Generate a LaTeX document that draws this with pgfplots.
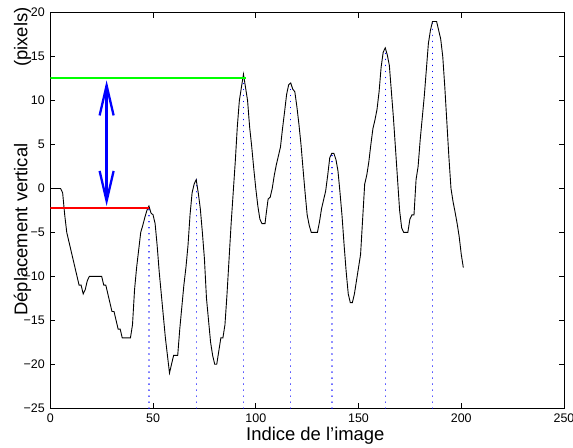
\documentclass[border=0pt]{standalone}
\usepackage{fontspec}
\setmainfont{Liberation Sans}
\usepackage{pgfplots}
\pgfplotsset{compat=1.18}
\usetikzlibrary{arrows.meta}
\begin{document}
\begin{tikzpicture}
\begin{axis}[
  name=ax,
  at={(0,0)}, anchor=south west,
  scale only axis,
  width=513.5bp, height=395.3bp,
  xmin=0, xmax=250, ymin=-25, ymax=20,
  xtick={0,50,100,150,200,250},
  ytick={-25,-20,-15,-10,-5,0,5,10,15,20},
  yticklabels={−25,−20,−15,−10,−5,0,5,10,15,20},
  xticklabels={0,50,100,150,200,250},
  tick align=inside,
  major tick length=5bp,
  axis line style={line width=0.8bp},
  every tick/.style={black, line width=0.8bp},
  tick label style={font=\fontsize{12.5}{12.5}\selectfont, inner sep=0pt},
  xticklabel style={anchor=base, yshift=-14.7bp},
  yticklabel style={anchor=east, xshift=-5.3bp},
  xlabel={Indice de l’image},
  ylabel={Déplacement vertical\hspace{4.16em}(pixels)},
  every axis x label/.style={at={(axis description cs:0.5159,0)}, anchor=base, yshift=-32.5bp, inner sep=0pt, font=\fontsize{18.5}{18.5}\selectfont},
  every axis y label/.style={at={(axis description cs:-0.0448,0.6236)}, rotate=90, anchor=base, inner sep=0pt, font=\fontsize{18.5}{18.5}\selectfont},
  dotstyle/.style={draw=blue, color=blue, line width=1.4bp, line cap=round, dash pattern=on 0.01bp off 6bp},
]
% dotted peak markers
\addplot[dotstyle] coordinates {(48,-25) (48,-2)};
\addplot[dotstyle] coordinates {(71,-25) (71,1)};
\addplot[dotstyle] coordinates {(94,-25) (94,13)};
\addplot[dotstyle] coordinates {(117,-25) (117,12)};
\addplot[dotstyle] coordinates {(137,-25) (137,4)};
\addplot[dotstyle] coordinates {(163,-25) (163,16)};
\addplot[dotstyle] coordinates {(186,-25) (186,19)};
% main curve
\addplot[black, line width=0.9bp] coordinates {
(1,0) (5,0) (6,-0.5) (7,-3) (8,-5) (9,-6) (10,-7) (11,-8) (12,-9) (13,-10) (14,-11) (15,-11)
(16,-12) (17,-11.5) (18,-10.5) (19,-10) (25,-10) (26,-11) (27,-11) (28,-12) (29,-13) (30,-14)
(31,-14) (32,-15) (33,-16) (34,-16) (35,-17) (39,-17) (40,-15.5) (41,-11.5) (42,-9) (43,-7)
(44,-5) (45,-4.2) (46,-3.3) (47,-2.5) (48,-2) (49,-2.8) (50,-3) (51,-4) (52,-6.5) (53,-9.5)
(54,-12) (55,-14.5) (56,-17) (57,-19) (58,-21) (59,-20) (60,-19) (62,-19) (63,-16) (64,-13.5)
(65,-11) (66,-9) (67,-6.5) (68,-3) (69,-0.5) (70,0.5) (71,1) (72,-0.5) (73,-2.3) (74,-5)
(75,-8) (76,-12.5) (77,-15) (78,-17.5) (79,-19) (80,-20) (81,-20) (82,-18.5) (83,-17) (84,-17)
(85,-15.5) (86,-12) (87,-8) (88,-4) (89,-0.5) (90,3) (91,7) (92,10) (93,11.5) (94,13)
(95,11.5) (96,10) (97,7) (98,4.8) (99,2.3) (100,0) (101,-2) (102,-3.5) (103,-4) (104.5,-4)
(105,-3) (106,-1.2) (107,-1) (108,0) (109,1.5) (110,2.7) (111,3.7) (112,4.7) (113,6.8)
(114,8.7) (115,10.7) (116,11.8) (117,12) (118,11.3) (119,11) (120,9.3) (121,7.3) (122,5)
(123,2.2) (124,-0.5) (125,-3) (126,-4.2) (127,-5) (130,-5) (131,-3.8) (132,-2.3) (133,-1.3)
(134,-0.3) (135,1.5) (136,3.5) (137,4) (138,4) (139,3.3) (140,2) (141,-0.5) (142,-3.2)
(143,-6.5) (144,-9.5) (145,-12) (146,-13) (147,-13) (148,-12) (149,-10.5) (150,-9) (151,-7.5)
(152,-3.5) (153,0.5) (154,1.5) (155,3) (156,5) (157,6.8) (158,7.8) (159,9) (160,11)
(161,13.8) (162,15.5) (163,16) (164,15.2) (165,14) (166,11) (167,8) (168,4.5) (169,1)
(170,-2.5) (171,-4.5) (172,-5) (174,-5) (175,-3.5) (176,-3) (177,-3) (178,1) (179,2.5)
(180,5.5) (181,8) (182,10.5) (183,13.5) (184,16.5) (185,18) (186,19) (188,19) (189,18)
(190,17) (191,15) (192,11.5) (193,7.5) (194,3.5) (195,0) (196,-1.5) (197,-2.7) (198,-4)
(199,-5.5) (200,-7.5) (201,-9)
};
% reference levels
\addplot[red, line width=2.5bp] coordinates {(0,-2.2) (48,-2.2)};
\addplot[green, line width=2.5bp] coordinates {(0,12.55) (95.1,12.55)};
% double arrow
\addplot[blue, line width=2.3bp, arrows={Straight Barb[length=30bp,width=14bp]-Straight Barb[length=30bp,width=14bp]}] coordinates {(27.4,-2.0) (27.4,12.3)};
\end{axis}
\pgfresetboundingbox
\useasboundingbox ([shift={(-50.3bp,-39bp)}]ax.south west) rectangle ([shift={(9bp,12.7bp)}]ax.north east);
\end{tikzpicture}
\end{document}
